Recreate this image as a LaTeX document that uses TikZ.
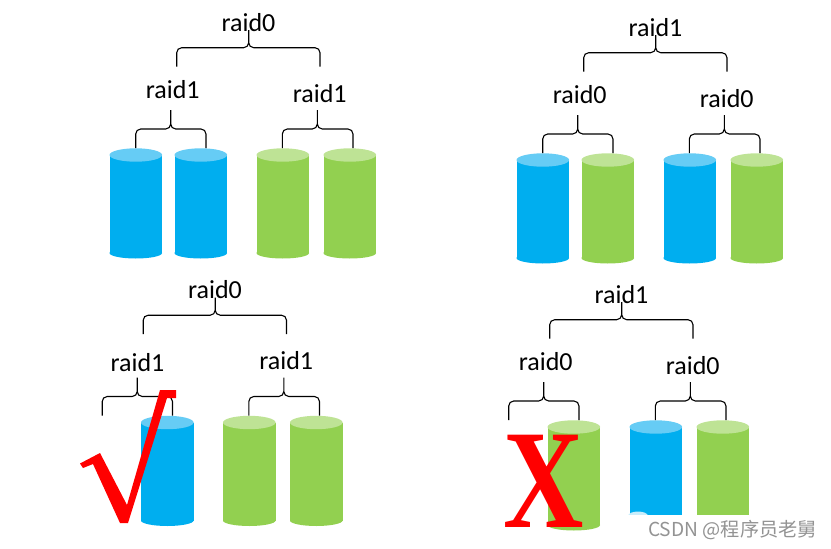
\documentclass[tikz,border=0pt]{standalone}
\usepackage{fontspec}
\usepackage{xcolor}
\setmainfont{Carlito}
\newfontfamily\markfont{Liberation Serif}
\newfontfamily\wmfont{Noto Sans CJK SC}
\definecolor{bodyB}{HTML}{00AEEF}
\definecolor{lidB}{HTML}{66CCF5}
\definecolor{bodyG}{HTML}{92D050}
\definecolor{lidG}{HTML}{BEE395}
\tikzset{
  raidlabel/.style={font=\fontsize{26}{30}\selectfont, inner sep=0pt, anchor=base, text=black},
  bracket/.style={draw=black, line width=1.1pt, rounded corners=5pt},
}

\begin{document}
\begin{tikzpicture}[x=1pt, y=-1pt]
\useasboundingbox (0,0) rectangle (831,549);
% disks: left edge / top / colour
\foreach \x/\y/\col in {109.5/155/B, 174.5/155/B, 256.5/155/G, 323.5/155/G,
  516.5/160/B, 581.5/160/G, 663.5/160/B, 730.5/160/G,
  141/422.5/B, 223/422.5/G, 290/422.5/G,
  547.5/427/G, 629.5/427/B, 696.5/427/G} {
  \fill[body\col] (\x+26.3,\y+98) ellipse [x radius=26.3, y radius=5.5];
  \fill[body\col] (\x,\y) rectangle ++(52.6,98);
  \fill[lid\col] (\x+26.3,\y) ellipse [x radius=26.3, y radius=6.7];
}
% the panels
\foreach \n/\dx/\dy/\lx/\ly/\outer/\inner in {tl/0/0/172.7/98.5/raid0/raid1, tr/407/5/172.7/98.5/raid1/raid0, bl/-33.5/267.5/171/103.5/raid0/raid1, br/373/272/172.7/98.5/raid1/raid0} {
\begin{scope}[shift={(\dx,\dy)}]
  \node[raidlabel] (\n-top) at (248.5,31) {\outer};
  \node[raidlabel] (\n-l) at (\lx,\ly) {\inner};
  \node[raidlabel] (\n-r) at (319.7,102) {\inner};
  \coordinate (\n-tiptop) at (248.7,30);
  \coordinate (\n-tipl) at (170.7,110);
  \coordinate (\n-tipr) at (317.3,110);
  \coordinate (\n-a) at (176.7,66.7);
  \coordinate (\n-b) at (320,66.7);
  \coordinate (\n-c) at (135.7,148);
  \coordinate (\n-d) at (206,148);
  \coordinate (\n-e) at (282.3,148);
  \coordinate (\n-f) at (353,148);
  \foreach \tip/\a/\b in {tiptop/a/b, tipl/c/d, tipr/e/f} {
    \draw[bracket] (\n-\a) -- ++(0,-19) coordinate (s) -- (s -| \n-\tip) -- (\n-\tip)
      (\n-\b) -- ++(0,-19) -- (s -| \n-\tip) -- (\n-\tip);
  }
\end{scope}
}
% tick and cross
\fill[red] (80,463.5) -- (100,453) -- (127,505) -- (160,390) -- (176,390) -- (176,398) -- (167,398) -- (128,523) -- (120,523) -- (93,464) -- (83,468) -- cycle;
\node[text=red, inner sep=0pt, anchor=base, font=\markfont\bfseries\fontsize{141}{141}\selectfont] (cross) at (544,527) {\scalebox{0.79}[1]{X}};
% watermark
\fill[lidB!35] (638,516) ellipse [x radius=10, y radius=4.5];
\fill[white] (625,515) rectangle (831,549);
\node[text=gray!85, inner sep=0pt, anchor=east, font=\wmfont\fontsize{19.2}{22}\selectfont] (csdn) at (817,530) {CSDN @程序员老舅};
\end{tikzpicture}
\end{document}
